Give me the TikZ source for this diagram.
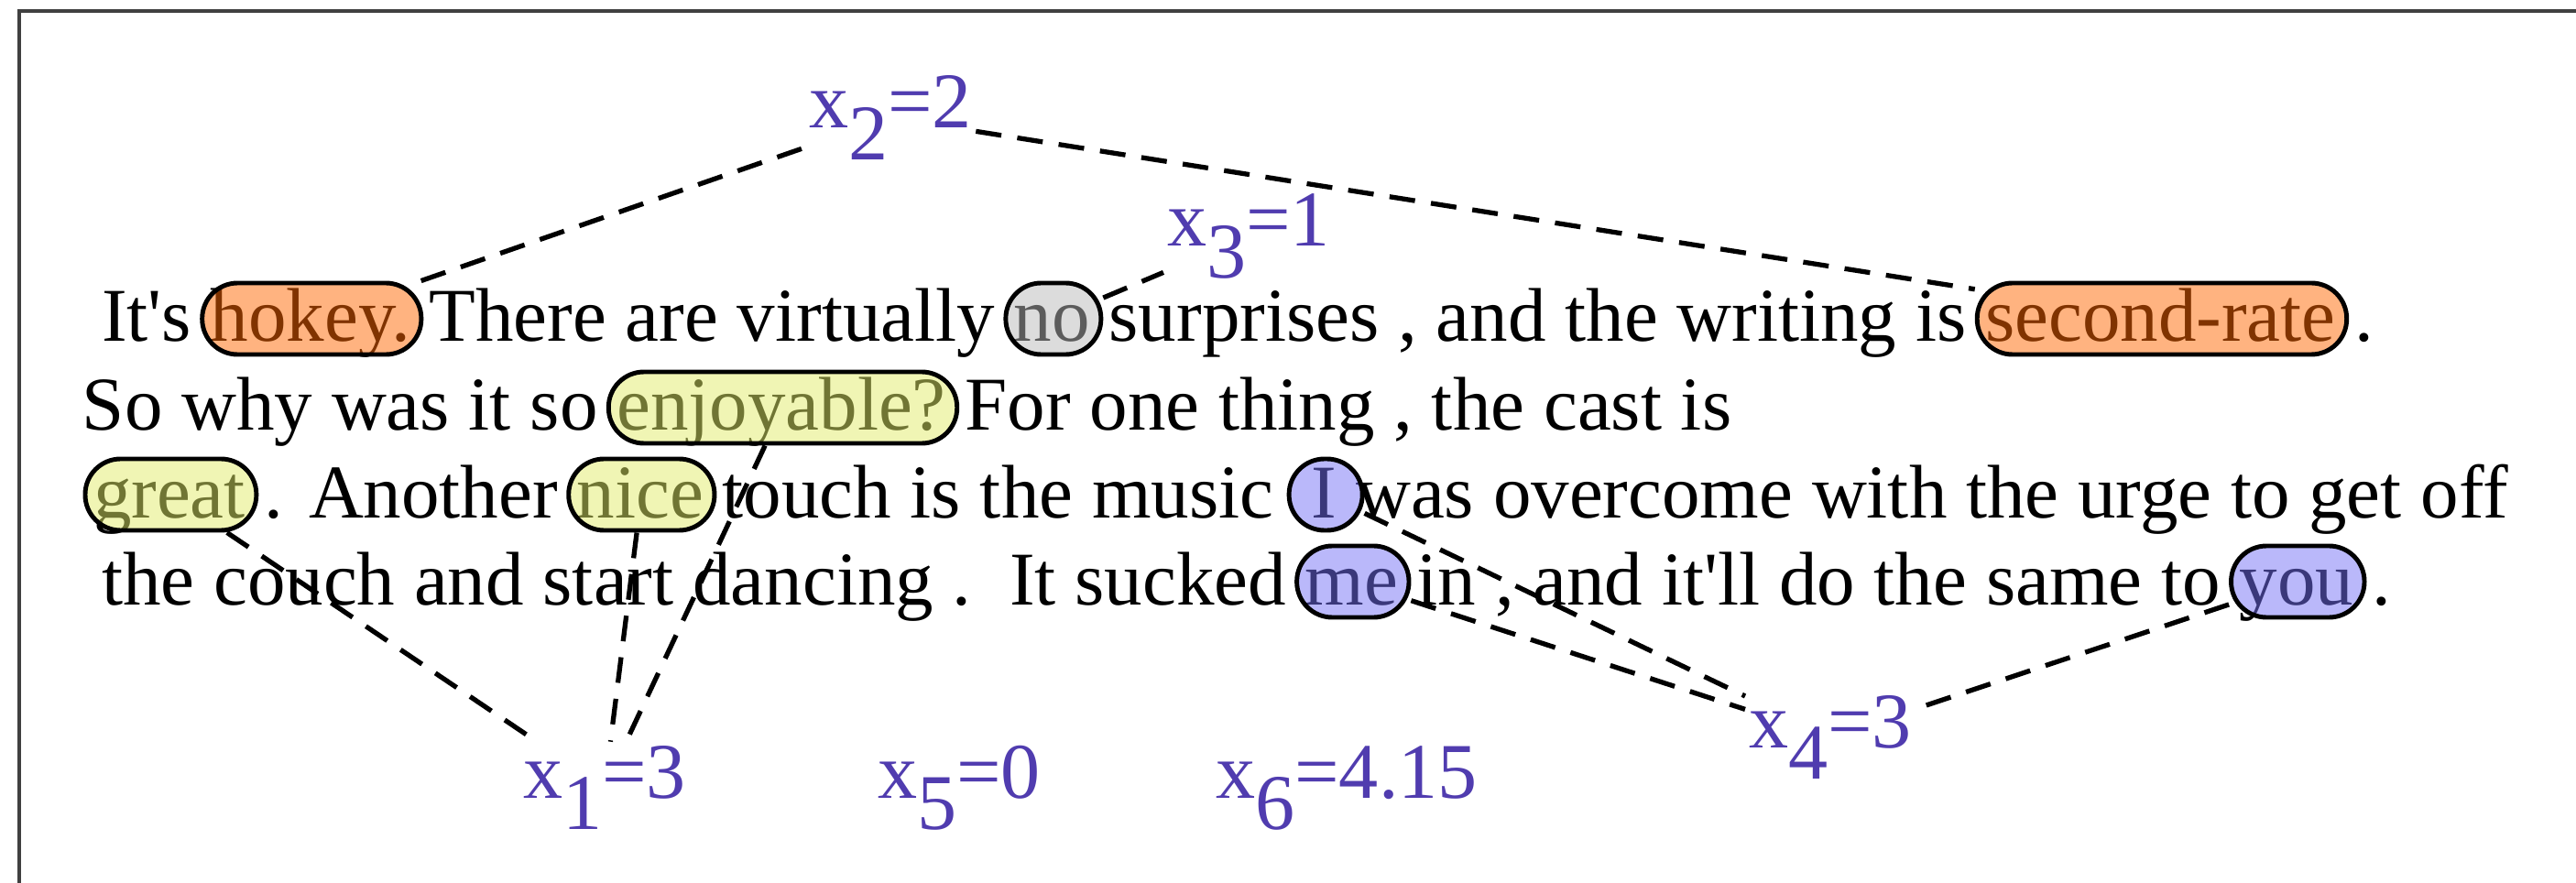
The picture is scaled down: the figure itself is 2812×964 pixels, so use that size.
\documentclass[tikz,border=0pt]{standalone}
\usepackage{fontspec}
\setmainfont{Liberation Serif}
\usetikzlibrary{fit,calc}
\definecolor{hlorange}{RGB}{255,103,1}
\definecolor{hlgray}{RGB}{185,185,185}
\definecolor{hlyellow}{RGB}{225,235,105}
\definecolor{hlblue}{RGB}{117,113,245}
\definecolor{xblue}{RGB}{80,60,175}
\newcommand{\xval}[2]{x\raisebox{-0.4em}{#1}=#2}

\begin{document}
\begin{tikzpicture}[x=0.01cm, y=-0.01cm,
    wd/.style={inner sep=0pt, outer sep=0pt, anchor=base west,
               font=\fontsize{23.6}{28}\selectfont},
    hl/.style={draw=black, line width=1.4pt, rounded corners=11pt,
               fill opacity=0.5, inner sep=0pt, minimum width=0.8cm},
    xlab/.style={text=xblue, inner sep=1pt, anchor=base west,
                 font=\fontsize{24.5}{29}\selectfont},
    link/.style={line width=1.5pt, dash pattern=on 8pt off 5pt}]
    \useasboundingbox (0,0) rectangle (2812,964);
    %% frame, only top and left edges show
    \draw[line width=1pt, black!75] (21,1100) |- (2900,12);

    %% review text, one chain of words per line
    %% (\null keeps the trailing space of a piece)
    \node[wd] (s1a) at (111,373) {It\textquotesingle s\ \null};
    \node[wd] (hokey) at (s1a.base east) {hokey.};
    \node[wd] (s1b) at (hokey.base east) {\ There are virtually\ \null};
    \node[wd] (no) at (s1b.base east) {no};
    \node[wd] (s1c) at (no.base east) {\ surprises , and the writing is\ \null};
    \node[wd] (second) at (s1c.base east) {second-rate};
    \node[wd] (s1d) at (second.base east) {\ .};

    \node[wd] (s2a) at (90,470) {So why was it so\ \null};
    \node[wd] (enjoy) at (s2a.base east) {enjoyable?};
    \node[wd] (s2b) at (enjoy.base east) {\ For one thing , the cast is};

    \node[wd] (great) at (102,565) {great};
    \node[wd] (s3a) at (great.base east) {\ . Another\ \null};
    \node[wd] (nice) at (s3a.base east) {nice};
    \node[wd] (s3b) at (nice.base east) {\ touch is the music\ \ \null};
    \node[wd] (I) at (s3b.base east) {I};
    \node[wd] (s3c) at (I.base east) {\ was overcome with the urge to get off};

    \node[wd] (s4a) at (111,660) {the couch and start dancing .\ \ It sucked\ \null};
    \node[wd] (me) at (s4a.base east) {me};
    \node[wd] (s4b) at (me.base east) {\ in , and it\textquotesingle ll do the same to\ \null};
    \node[wd] (you) at (s4b.base east) {you};
    \node[wd] (s4c) at (you.base east) {\ .};

    %% highlights over the words
    \foreach \w/\c in {hokey/hlorange, no/hlgray, second/hlorange,
                       enjoy/hlyellow, great/hlyellow, nice/hlyellow,
                       I/hlblue, me/hlblue, you/hlblue}
      \node[hl, fill=\c, fit={($(\w.base west)+(-9,14)$) ($(\w.base east)+(12,-64)$)}] (\w B) {};

    %% variables
    \node[xlab] (x1) at (567,871) {\xval{1}{3}};
    \node[xlab] (x2) at (879,140) {\xval{2}{2}};
    \node[xlab] (x3) at (1270,269) {\xval{3}{1}};
    \node[xlab] (x4) at (1905,816) {\xval{4}{3}};
    \node[xlab] (x5) at (954,871) {\xval{5}{0}};
    \node[xlab] (x6) at (1323,871) {\xval{6}{4.15}};

    %% links
    \draw[link] (hokeyB) -- (x2);
    \draw[link] (x2) -- (secondB);
    \draw[link] (noB) -- (x3);
    \draw[link] (greatB) -- (x1);
    \draw[link] (niceB) -- (x1);
    \draw[link] (enjoyB) -- (x1);
    \draw[link] (IB) -- (x4);
    \draw[link] (meB) -- (x4);
    \draw[link] (youB) -- (x4);
\end{tikzpicture}
\end{document}
